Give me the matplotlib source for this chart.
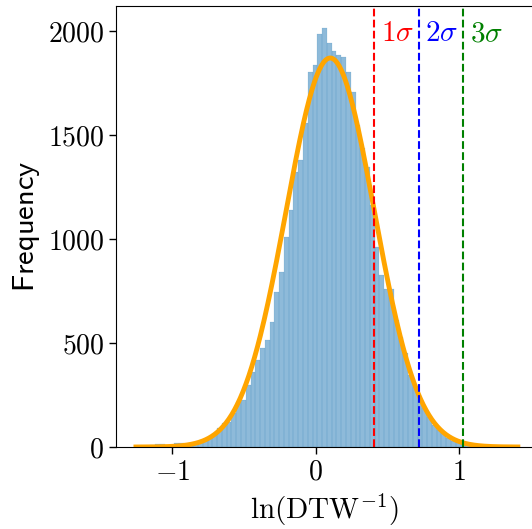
import numpy as np
import matplotlib.pyplot as plt

plt.rcParams['mathtext.fontset'] = 'cm'
plt.rcParams['font.family'] = 'serif'
plt.rcParams['font.serif'] = ['DejaVu Serif']

# histogram of ln(DTW^-1): 80 bins
bin_start = -1.253
bin_width = 0.0333
counts = [3, 4, 6, 8, 14, 14, 10, 12, 19, 19,
          14, 16, 21, 26, 34, 42, 62, 91, 115, 122,
          163, 215, 226, 298, 362, 418, 474, 514, 603, 747,
          840, 1008, 1139, 1324, 1380, 1556, 1805, 1837, 1985, 2013,
          1941, 1904, 1885, 1873, 1801, 1708, 1548, 1437, 1348, 1165,
          963, 827, 760, 760, 611, 530, 452, 346, 288, 226,
          187, 146, 106, 82, 67, 42, 30, 25, 20, 15,
          10, 8, 6, 4, 3, 2, 2, 1, 1, 1]

# gaussian fit
mu = 0.102
sigma = 0.308
peak = 1870

sig_labels = [r'$\mathsf{1}\sigma$', r'$\mathsf{2}\sigma$', r'$\mathsf{3}\sigma$']
sig_colors = ['red', 'blue', 'green']

counts = np.array(counts)
edges = bin_start + bin_width * np.arange(len(counts) + 1)

fig = plt.figure(figsize=(5.32, 5.29), dpi=100)
ax = fig.add_axes([116/532, 82/529, 1.002 - 116/532, (447-6)/529])

ax.bar(edges[:-1], counts, width=bin_width, align='edge', color='tab:blue',
       alpha=0.5, edgecolor='tab:blue', linewidth=0.15)

xs = np.linspace(edges[0], edges[-1], 400)
ax.plot(xs, peak*np.exp(-0.5*((xs - mu)/sigma)**2), color='orange', lw=3.5)

for i in range(3):
    xv = mu + (i+1)*sigma
    ax.axvline(xv, color=sig_colors[i], ls='--', lw=1.5)
    ax.annotate(sig_labels[i], (xv, 1990), xytext=(5, 0), textcoords='offset points',
                color=sig_colors[i], fontsize=21, va='center', ha='left')

ax.set_xlim(-1.392, 1.517)
ax.set_ylim(0, 2120)
ax.set_xticks([-1, 0, 1])
ax.set_xticklabels([r'$-1$', r'$0$', r'$1$'])
ax.set_yticks([0, 500, 1000, 1500, 2000])
ax.set_yticklabels([r'$%d$' % v for v in [0, 500, 1000, 1500, 2000]])
ax.tick_params(labelsize=20, length=5, width=1)
ax.set_xlabel(r'$\ln(\mathrm{DTW}^{-1})$', fontsize=21)
ax.set_ylabel(r'$\mathsf{Frequency}$', fontsize=22)

plt.savefig('out.png', dpi=100)
